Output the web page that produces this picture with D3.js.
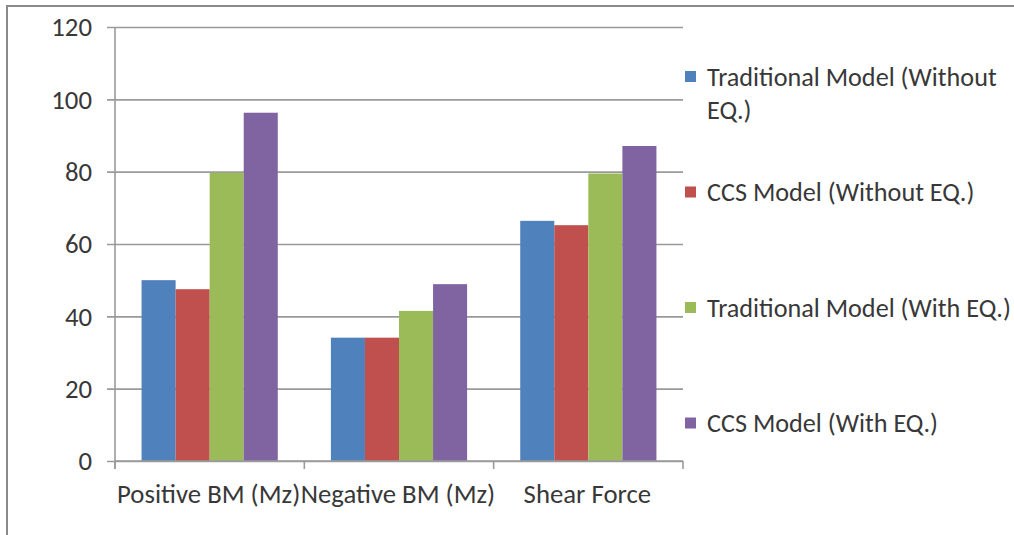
<!DOCTYPE html>
<html>
<head>
<meta charset="utf-8">
<script src="https://cdn.jsdelivr.net/npm/d3@7"></script>
<style>
  html, body { margin: 0; padding: 0; background: #fff; overflow: hidden; }
  svg { display: block; }
</style>
</head>
<body>
<svg id="chart" width="1014" height="535"></svg>
<script>
// Member forces per load effect, four model variants
const categories = ["Positive BM (Mz)", "Negative BM (Mz)", "Shear Force"];
const seriesNames = [
  "Traditional Model (Without EQ.)",
  "CCS Model (Without EQ.)",
  "Traditional Model (With EQ.)",
  "CCS Model (With EQ.)"
];
const traditionalWithout = [50, 34.1, 66.4];
const ccsWithout = [47.5, 34.1, 65.2];
const traditionalWith = [79.7, 41.5, 79.5];
const ccsWith = [96.3, 48.9, 87.1];
const yTicks = [0, 20, 40, 60, 80, 100, 120];
const colors = ["#4F81BD", "#C0504D", "#9BBB59", "#8064A2"];

const seriesValues = [traditionalWithout, ccsWithout, traditionalWith, ccsWith];

const svg = d3.select("#chart");
const W = 1014, H = 535;
const plot = { left: 115, right: 683, top: 27, bottom: 461 };
const fontFamily = "Carlito, Calibri, Lato, 'Open Sans', sans-serif";
const textColor = "#383838";
const gridColor = "#9a9a9a";

function measure(str, size) {
  const t = svg.append("text").attr("font-family", fontFamily).attr("font-size", size).text(str);
  const w = t.node().getComputedTextLength();
  t.remove();
  return w;
}

// Pick a font size so the sans face sets text at the chart's usual width
const fs = Math.min(30, 296 / measure("Traditional Model (Without", 100) * 100);

// Outer chart frame
svg.append("rect")
  .attr("x", 7).attr("y", 6)
  .attr("width", W + 50).attr("height", H + 50)
  .attr("fill", "#fff")
  .attr("stroke", "#8a8a8a").attr("stroke-width", 2);

const x = d3.scaleBand().domain(categories).range([plot.left, plot.right]).paddingInner(0).paddingOuter(0);
const xs = d3.scaleBand().domain(d3.range(seriesNames.length)).range([0, x.bandwidth()])
  .paddingInner(0).paddingOuter(0.78);
const y = d3.scaleLinear().domain([0, 120]).range([plot.bottom, plot.top]);

// Horizontal gridlines with left tick marks
const yAxis = d3.axisLeft(y).tickValues(yTicks).tickSize(-(plot.right - plot.left)).tickFormat("");
const gy = svg.append("g").attr("transform", `translate(${plot.left},0)`).call(yAxis);
gy.select(".domain").remove();
gy.selectAll(".tick line")
  .attr("x1", -8)
  .attr("stroke", gridColor).attr("stroke-width", 1.6);

// Y tick labels
svg.append("g").selectAll("text").data(yTicks).join("text")
  .attr("x", 92).attr("y", d => y(d))
  .attr("dy", "0.35em")
  .attr("text-anchor", "end")
  .attr("font-family", fontFamily).attr("font-size", fs)
  .attr("fill", textColor)
  .text(d => d);

// Bars
const groups = svg.append("g").selectAll("g").data(categories).join("g")
  .attr("transform", d => `translate(${x(d)},0)`);
groups.selectAll("rect")
  .data((c, ci) => seriesValues.map((vals, si) => ({ si, v: vals[ci] })))
  .join("rect")
  .attr("x", d => xs(d.si))
  .attr("width", xs.bandwidth())
  .attr("y", d => y(d.v))
  .attr("height", d => y(0) - y(d.v))
  .attr("fill", d => colors[d.si]);

// Y axis line
svg.append("line")
  .attr("x1", plot.left).attr("x2", plot.left)
  .attr("y1", plot.top).attr("y2", plot.bottom + 8)
  .attr("stroke", gridColor).attr("stroke-width", 1.6);

// X axis line with category boundary ticks
svg.append("line")
  .attr("x1", plot.left).attr("x2", plot.right)
  .attr("y1", plot.bottom).attr("y2", plot.bottom)
  .attr("stroke", gridColor).attr("stroke-width", 1.6);
const boundaries = categories.map(c => x(c)).concat([x(categories[categories.length - 1]) + x.bandwidth()]);
svg.append("g").selectAll("line").data(boundaries).join("line")
  .attr("x1", d => d).attr("x2", d => d)
  .attr("y1", plot.bottom).attr("y2", plot.bottom + 8)
  .attr("stroke", gridColor).attr("stroke-width", 1.6);

// Category labels
svg.append("g").selectAll("text").data(categories).join("text")
  .attr("x", d => x(d) + x.bandwidth() / 2 - 1)
  .attr("y", 503)
  .attr("text-anchor", "middle")
  .attr("font-family", fontFamily).attr("font-size", fs)
  .attr("fill", textColor)
  .text(d => d);

// Legend
const legendX = 685, legendTextX = 707, legendWrap = 320, lineH = 33, legendRight = 1011;
const legendY = d3.scalePoint().domain(d3.range(seriesNames.length)).range([85.5, 432]);

function wrapLines(str, size) {
  const words = str.split(" ");
  const lines = [];
  let cur = "";
  words.forEach(w => {
    const test = cur ? cur + " " + w : w;
    if (measure(test, size) > legendWrap && cur) {
      lines.push(cur);
      cur = w;
    } else {
      cur = test;
    }
  });
  lines.push(cur);
  return lines;
}

// Keep the widest legend line inside the right edge
const legendLines = seriesNames.map(s => wrapLines(s, fs));
const widest = d3.max(legendLines.flat(), ln => measure(ln, fs));
const lfs = Math.min(fs, fs * (legendRight - legendTextX) / widest);

const items = svg.append("g").selectAll("g").data(seriesNames).join("g");
items.append("rect")
  .attr("x", legendX)
  .attr("y", (d, i) => legendY(i) - 14.5)
  .attr("width", 11).attr("height", 11)
  .attr("fill", (d, i) => colors[i]);
items.each(function (d, i) {
  const t = d3.select(this).append("text")
    .attr("font-family", fontFamily).attr("font-size", lfs)
    .attr("fill", textColor);
  legendLines[i].forEach((ln, li) => {
    t.append("tspan")
      .attr("x", legendTextX)
      .attr("y", legendY(i) + li * lineH)
      .text(ln);
  });
});
</script>
</body>
</html>
